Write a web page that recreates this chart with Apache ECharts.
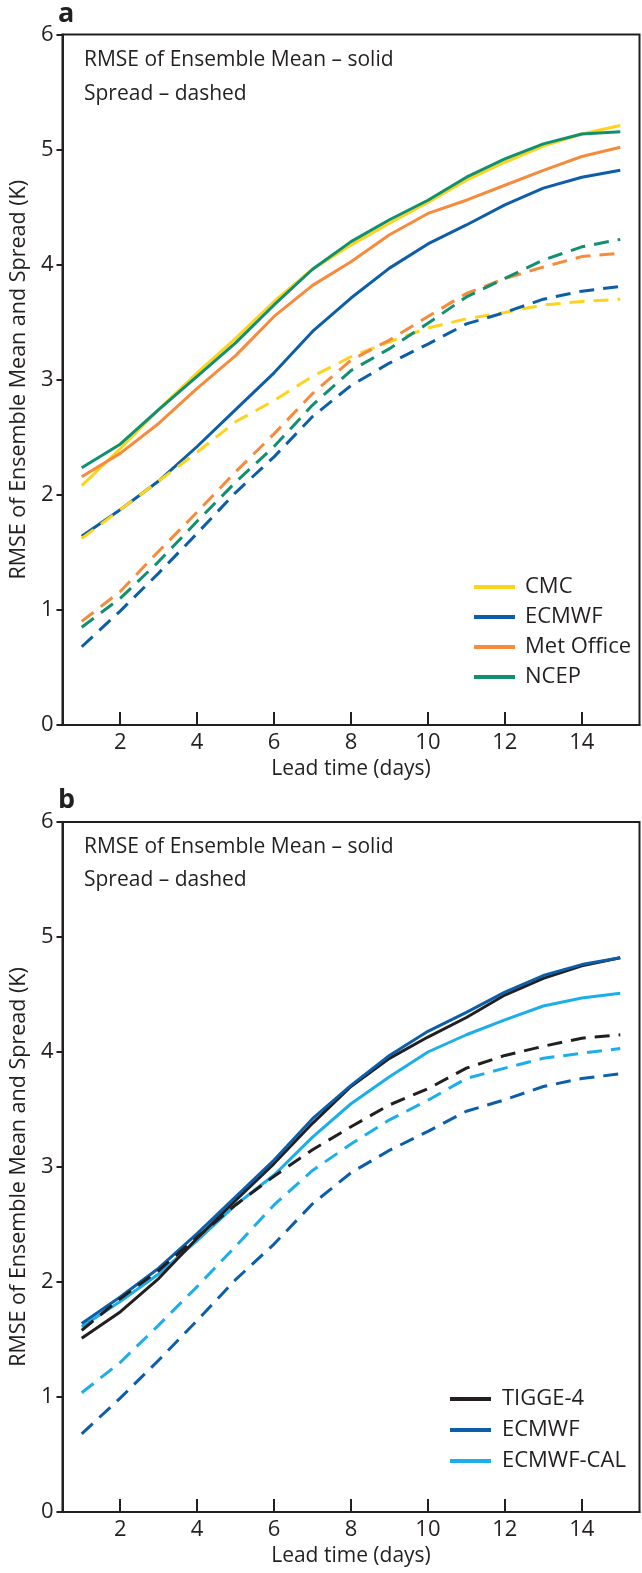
<!DOCTYPE html>
<html>
<head>
<meta charset="utf-8">
<script src="https://cdn.jsdelivr.net/npm/echarts@6/dist/echarts.min.js"></script>
<style>
  html, body { margin: 0; padding: 0; background: #fff; }
  #rmseChart { width: 642px; height: 1573px; }
</style>
</head>
<body>
<div id="rmseChart"></div>
<script>
// lead time in days
const days = [1, 2, 3, 4, 5, 6, 7, 8, 9, 10, 11, 12, 13, 14, 15];
const xTickValues = [2, 4, 6, 8, 10, 12, 14];

// panel a - RMSE of ensemble mean (solid) and spread (dashed)
const cmcRmse = [2.08, 2.40, 2.74, 3.06, 3.36, 3.68, 3.96, 4.17, 4.36, 4.54, 4.735, 4.89, 5.03, 5.135, 5.21];
const cmcSpread = [1.62, 1.87, 2.12, 2.37, 2.635, 2.82, 3.03, 3.20, 3.33, 3.45, 3.53, 3.585, 3.65, 3.68, 3.70];
const ecmwfRmse = [1.64, 1.87, 2.12, 2.42, 2.74, 3.06, 3.42, 3.71, 3.97, 4.18, 4.345, 4.52, 4.665, 4.76, 4.82];
const ecmwfSpread = [0.68, 0.99, 1.32, 1.665, 2.02, 2.33, 2.68, 2.95, 3.145, 3.31, 3.485, 3.585, 3.70, 3.77, 3.81];
const metRmse = [2.157, 2.36, 2.62, 2.925, 3.21, 3.55, 3.82, 4.025, 4.26, 4.445, 4.56, 4.69, 4.82, 4.94, 5.02];
const metSpread = [0.90, 1.16, 1.51, 1.85, 2.20, 2.53, 2.88, 3.17, 3.345, 3.55, 3.75, 3.88, 3.98, 4.07, 4.10];
const ncepRmse = [2.235, 2.44, 2.74, 3.03, 3.32, 3.65, 3.96, 4.20, 4.39, 4.56, 4.76, 4.92, 5.05, 5.135, 5.155];
const ncepSpread = [0.85, 1.10, 1.42, 1.77, 2.11, 2.42, 2.78, 3.08, 3.27, 3.49, 3.72, 3.88, 4.04, 4.155, 4.22];

// panel b (ECMWF reuses the arrays above)
const tiggeRmse = [1.51, 1.74, 2.03, 2.38, 2.71, 3.03, 3.38, 3.70, 3.945, 4.13, 4.30, 4.495, 4.64, 4.75, 4.82];
const tiggeSpread = [1.58, 1.855, 2.10, 2.39, 2.67, 2.92, 3.15, 3.35, 3.54, 3.68, 3.86, 3.97, 4.05, 4.12, 4.15];
const calRmse = [1.61, 1.83, 2.07, 2.36, 2.67, 2.93, 3.26, 3.55, 3.785, 4.00, 4.15, 4.28, 4.40, 4.47, 4.51];
const calSpread = [1.037, 1.30, 1.625, 1.96, 2.31, 2.67, 2.97, 3.20, 3.41, 3.58, 3.77, 3.86, 3.945, 3.99, 4.03];

const FONT = "'Open Sans', 'DejaVu Sans', sans-serif";
const INK = '#231f20';
const DASH = [15, 9];
const ECMWF_BLUE = '#0d5ea8';

function pairs(values) {
    return days.map(function (d, i) { return [d, values[i]]; });
}

function line(name, values, color, grid, dashed) {
    return {
        name: name,
        type: 'line',
        xAxisIndex: grid,
        yAxisIndex: grid,
        showSymbol: false,
        silent: true,
        color: color,
        itemStyle: { color: color },
        lineStyle: { color: color, width: 3, type: dashed ? DASH : 'solid' },
        data: pairs(values)
    };
}

function xAxis(grid) {
    return {
        type: 'value',
        gridIndex: grid,
        min: 0.5,
        max: 15.5,
        name: 'Lead time (days)',
        nameLocation: 'middle',
        nameGap: 34,
        nameTextStyle: { fontFamily: FONT, fontSize: 21, color: INK },
        axisLine: { show: true, lineStyle: { color: INK, width: 2 } },
        axisTick: { show: true, inside: true, length: 13, customValues: xTickValues, lineStyle: { color: INK, width: 2 } },
        axisLabel: { customValues: xTickValues, margin: 7, fontFamily: FONT, fontSize: 22, color: INK },
        splitLine: { show: false }
    };
}

function yAxis(grid) {
    return {
        type: 'value',
        gridIndex: grid,
        min: 0,
        max: 6,
        interval: 1,
        name: 'RMSE of Ensemble Mean and Spread (K)',
        nameLocation: 'middle',
        nameGap: 30,
        nameTextStyle: { fontFamily: FONT, fontSize: 21.5, color: INK },
        axisLine: { show: true, lineStyle: { color: INK, width: 2 } },
        axisTick: { show: true, length: 6, lineStyle: { color: INK, width: 2 } },
        axisLabel: { margin: 9, fontFamily: FONT, fontSize: 22, color: INK },
        splitLine: { show: false }
    };
}

function legend(names, left, top, gap, pad) {
    return {
        orient: 'vertical',
        left: left,
        top: top,
        data: names,
        icon: 'rect',
        itemWidth: 41,
        itemHeight: 4,
        itemGap: gap,
        selectedMode: false,
        padding: 0,
        textStyle: { fontFamily: FONT, fontSize: 22, color: INK, padding: [0, 0, 0, pad] }
    };
}

function note(text, top) {
    return {
        type: 'text',
        left: 84,
        top: top,
        style: { text: text, font: '21px ' + FONT, fill: INK }
    };
}

const chart = echarts.init(document.getElementById('rmseChart'), null, { renderer: 'canvas' });

const option = {
    animation: false,
    backgroundColor: '#fff',
    title: [
        { text: 'a', left: 58, top: 1, padding: 0, textStyle: { fontFamily: FONT, fontWeight: 'bold', fontSize: 27, color: INK } },
        { text: 'b', left: 58, top: 787, padding: 0, textStyle: { fontFamily: FONT, fontWeight: 'bold', fontSize: 27, color: INK } }
    ],
    grid: [
        { left: 61.5, top: 34.5, width: 578, height: 690.5, show: true, borderColor: INK, borderWidth: 2, containLabel: false },
        { left: 61.5, top: 822, width: 578, height: 690, show: true, borderColor: INK, borderWidth: 2, containLabel: false }
    ],
    xAxis: [xAxis(0), xAxis(1)],
    yAxis: [yAxis(0), yAxis(1)],
    legend: [
        legend(['CMC', 'ECMWF', 'Met Office', 'NCEP'], 474, 576, 8, 5),
        legend(['TIGGE-4', 'ECMWF', 'ECMWF-CAL'], 450, 1388, 9, 6)
    ],
    graphic: [
        note('RMSE of Ensemble Mean – solid', 50),
        note('Spread – dashed', 84),
        note('RMSE of Ensemble Mean – solid', 837),
        note('Spread – dashed', 870)
    ],
    series: [
        line('CMC', cmcRmse, '#fdd31c', 0, false),
        line('ECMWF', ecmwfRmse, ECMWF_BLUE, 0, false),
        line('Met Office', metRmse, '#f68b3c', 0, false),
        line('NCEP', ncepRmse, '#11906f', 0, false),
        line('CMC', cmcSpread, '#fdd31c', 0, true),
        line('Met Office', metSpread, '#f68b3c', 0, true),
        line('NCEP', ncepSpread, '#11906f', 0, true),
        line('ECMWF', ecmwfSpread, ECMWF_BLUE, 0, true),

        line('ECMWF-CAL', calRmse, '#1baeea', 1, false),
        line('TIGGE-4', tiggeRmse, INK, 1, false),
        line('ECMWF', ecmwfRmse, ECMWF_BLUE, 1, false),
        line('TIGGE-4', tiggeSpread, INK, 1, true),
        line('ECMWF-CAL', calSpread, '#1baeea', 1, true),
        line('ECMWF', ecmwfSpread, ECMWF_BLUE, 1, true)
    ]
};

chart.setOption(option);
window.addEventListener('resize', () => {
    chart.resize();
});
</script>
</body>
</html>
